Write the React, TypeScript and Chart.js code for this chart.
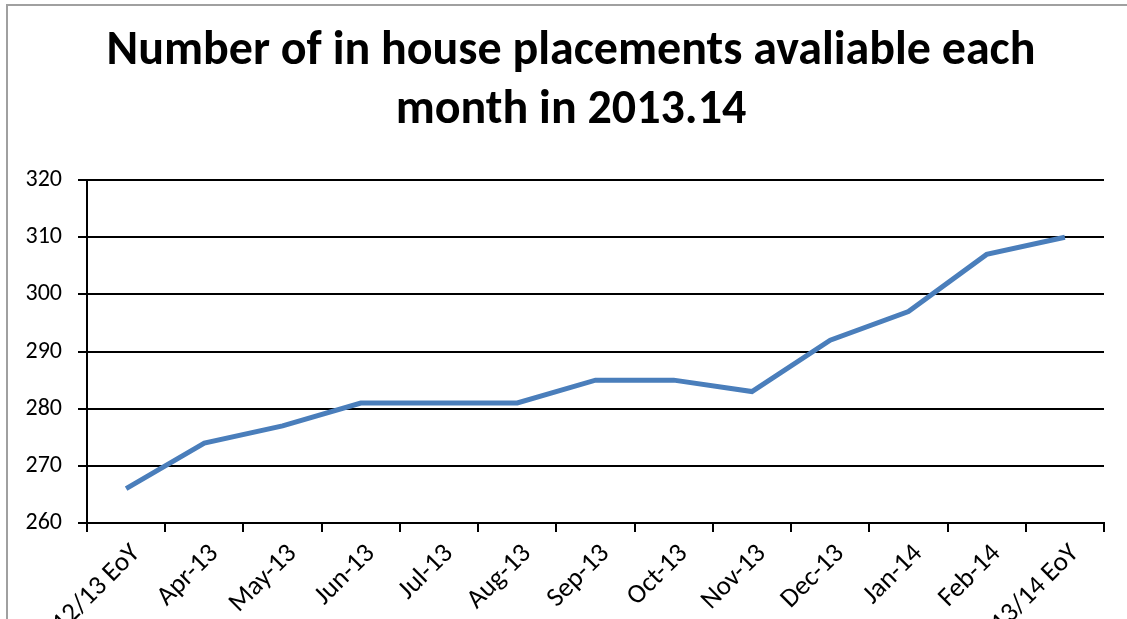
import { useEffect, useRef } from "react";
import Chart from "chart.js/auto";

const categories = [
  "12/13 EoY",
  "Apr-13",
  "May-13",
  "Jun-13",
  "Jul-13",
  "Aug-13",
  "Sep-13",
  "Oct-13",
  "Nov-13",
  "Dec-13",
  "Jan-14",
  "Feb-14",
  "13/14 EoY",
];
const placements = [266, 274, 277, 281, 281, 281, 285, 285, 283, 292, 297, 307, 310];
const yMin = 260;
const yMax = 320;
const yStep = 10;
const titleLines = ["Number of in house placements avaliable each", "month in 2013.14"];

const FONT = "Carlito, Lato, 'Open Sans', sans-serif";

const titleShift = {
  id: "titleShift",
  afterLayout(chart: any) {
    const t = chart.titleBlock;
    if (t) {
      t.left = 38;
      t.right = 1104;
      t.width = t.right - t.left;
    }
  },
};

export default function App() {
  const ref = useRef<HTMLCanvasElement | null>(null);
  useEffect(() => {
    if (!ref.current) return;
    const chart = new Chart(ref.current, {
      type: "line",
      data: {
        labels: categories,
        datasets: [
          {
            data: placements,
            borderColor: "#4A7EBB",
            borderWidth: 5,
            pointRadius: 0,
            tension: 0,
            fill: false,
          },
        ],
      },
      plugins: [titleShift],
      options: {
        animation: false,
        responsive: false,
        maintainAspectRatio: false,
        layout: { padding: { left: 0, right: 23, top: 0, bottom: 0 } },
        plugins: {
          legend: { display: false },
          tooltip: { enabled: false },
          title: {
            display: true,
            text: titleLines,
            color: "#000",
            font: { family: FONT, size: 48, weight: "bold", lineHeight: 1.22 },
            padding: { top: 23, bottom: 40 },
          },
        },
        scales: {
          x: {
            type: "category",
            offset: true,
            afterFit: (s: any) => {
              s.height = 96;
            },
            grid: {
              offset: true,
              drawOnChartArea: false,
              drawTicks: true,
              tickLength: 9,
              color: "#000",
              lineWidth: 2,
            },
            border: { display: true, color: "#000", width: 2 },
            ticks: {
              color: "#000",
              font: { family: FONT, size: 27 },
              maxRotation: 45,
              minRotation: 45,
              autoSkip: false,
              padding: 6,
              labelOffset: 10,
            },
          },
          y: {
            min: yMin,
            max: yMax,
            afterFit: (s: any) => {
              s.width = 87;
            },
            grid: {
              color: "#000",
              lineWidth: 2,
              tickLength: 9,
            },
            border: { display: true, color: "#000", width: 2 },
            ticks: {
              stepSize: yStep,
              color: "#000",
              font: { family: FONT, size: 24 },
              padding: 16,
            },
          },
        },
      },
    });
    return () => chart.destroy();
  }, []);
  return (
    <div
      style={{
        position: "fixed",
        left: 0,
        top: 0,
        width: 1127,
        height: 619,
        overflow: "hidden",
        background: "#fff",
      }}
    >
      <div
        style={{
          position: "absolute",
          left: 6,
          top: 4,
          width: 1300,
          height: 800,
          borderLeft: "2px solid #a0a0a0",
          borderTop: "2px solid #a0a0a0",
        }}
      />
      <canvas
        ref={ref}
        width={1127}
        height={619}
        style={{ position: "absolute", left: 0, top: 0, width: 1127, height: 619 }}
      />
    </div>
  );
}
